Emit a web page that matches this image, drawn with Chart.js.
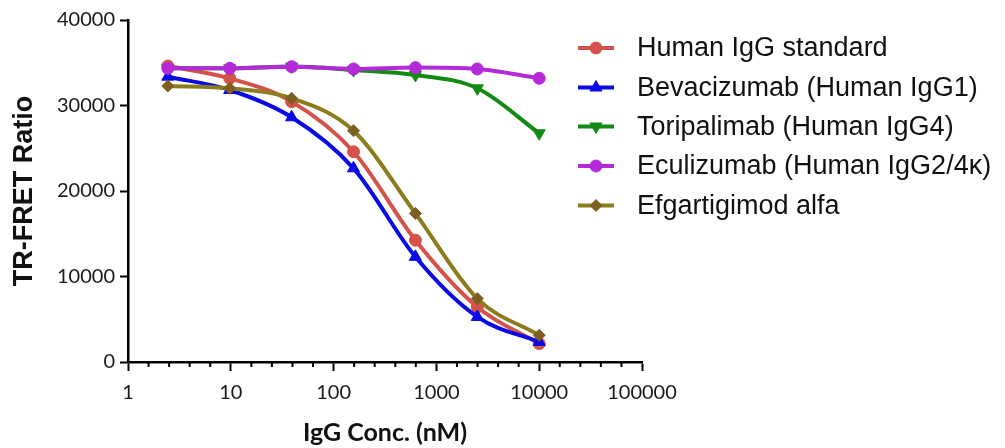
<!DOCTYPE html>
<html>
<head>
<meta charset="utf-8">
<script src="https://cdn.jsdelivr.net/npm/chart.js@4.4.1/dist/chart.umd.min.js"></script>
<style>
  html, body { margin: 0; padding: 0; background: #fff; }
  #wrap { width: 1005px; height: 448px; position: relative; }
</style>
</head>
<body>
<div id="wrap"><canvas id="fretChart"></canvas></div>
<script>
// IgG concentrations (nM), 4-fold dilutions
const CONC = [2.441, 9.766, 39.06, 156.25, 625, 2500, 10000];

const HUMAN_IGG   = [34620, 33180, 30450, 24590, 14250, 6440, 2150];
const BEVACIZUMAB = [33370, 31810, 28620, 22650, 12300, 5270, 2340];
const TORIPALIMAB = [34350, 34350, 34550, 34150, 33570, 32010, 26750];
const ECULIZUMAB  = [34350, 34350, 34540, 34270, 34430, 34270, 33180];
const EFGARTIGIMOD = [32280, 32010, 30840, 27050, 17380, 7420, 3130];

const SERIES_LABELS = [
  'Human IgG standard',
  'Bevacizumab (Human IgG1)',
  'Toripalimab (Human IgG4)',
  'Eculizumab (Human IgG2/4\u03ba)',
  'Efgartigimod alfa'
];

const X_TICKS = [1, 10, 100, 1000, 10000, 100000];
const Y_TICKS = [0, 10000, 20000, 30000, 40000];

const COLORS = ['#d4524a', '#0a0ae6', '#138a13', '#b42ad8', '#8c7c1c'];
const MARKER_COLORS = ['#d4524a', '#0a0ae6', '#138a13', '#b42ad8', '#7e5f22'];
const STYLES = [
  { pointStyle: 'circle', radius: 6, rotation: 0 },
  { pointStyle: 'triangle', radius: 7, rotation: 0 },
  { pointStyle: 'triangle', radius: 7, rotation: 180 },
  { pointStyle: 'circle', radius: 6, rotation: 0 },
  { pointStyle: 'rectRot', radius: 6, rotation: 0 }
];

Chart.defaults.font.family = "'Lato', sans-serif";
Chart.defaults.color = '#1a1a1a';

function makeSet(i, values) {
  return {
    label: SERIES_LABELS[i],
    data: CONC.map((x, k) => ({ x, y: values[k] })),
    borderColor: COLORS[i],
    backgroundColor: MARKER_COLORS[i],
    pointBackgroundColor: MARKER_COLORS[i],
    pointBorderColor: MARKER_COLORS[i],
    pointStyle: STYLES[i].pointStyle,
    pointRotation: STYLES[i].rotation,
    pointRadius: STYLES[i].radius,
    pointBorderWidth: 1,
    borderWidth: 4,
    cubicInterpolationMode: 'monotone',
    fill: false,
    order: 5 - i
  };
}

// minor ticks on the log axis + legend drawn on canvas
const extrasPlugin = {
  id: 'extras',
  afterDraw(chart) {
    const ctx = chart.ctx;
    const xs = chart.scales.x;
    const bottom = chart.chartArea.bottom;

    ctx.save();
    ctx.strokeStyle = '#000';
    ctx.lineWidth = 2;
    for (let d = 0; d < X_TICKS.length - 1; d++) {
      for (let k = 1; k <= 4; k++) {
        const v = X_TICKS[d] * Math.pow(10, k / 5);
        const px = xs.getPixelForValue(v);
        ctx.beginPath();
        ctx.moveTo(px, bottom);
        ctx.lineTo(px, bottom + 5);
        ctx.stroke();
      }
    }

    // legend
    const lx0 = 578, lx1 = 614, tx = 637;
    const rows = [48, 87.5, 126.5, 166, 205.5];
    ctx.font = "27px 'Liberation Sans', Arial, sans-serif";
    ctx.textBaseline = 'middle';
    ctx.textAlign = 'left';
    SERIES_LABELS.forEach((lab, i) => {
      const y = rows[i];
      ctx.strokeStyle = COLORS[i];
      ctx.lineWidth = 4;
      ctx.beginPath();
      ctx.moveTo(lx0, y);
      ctx.lineTo(lx1, y);
      ctx.stroke();
      ctx.fillStyle = MARKER_COLORS[i];
      ctx.strokeStyle = MARKER_COLORS[i];
      ctx.lineWidth = 1;
      Chart.helpers.drawPoint(ctx, {
        pointStyle: STYLES[i].pointStyle,
        radius: STYLES[i].radius,
        rotation: STYLES[i].rotation,
        borderWidth: 1
      }, (lx0 + lx1) / 2, y);
      ctx.fillStyle = '#111';
      ctx.fillText(lab, tx, y + 1);
    });
    ctx.restore();
  }
};

new Chart(document.getElementById('fretChart'), {
  type: 'line',
  data: {
    datasets: [
      makeSet(0, HUMAN_IGG),
      makeSet(1, BEVACIZUMAB),
      makeSet(2, TORIPALIMAB),
      makeSet(3, ECULIZUMAB),
      makeSet(4, EFGARTIGIMOD)
    ]
  },
  options: {
    responsive: true,
    maintainAspectRatio: false,
    animation: false,
    layout: { padding: { left: 0, right: 363, top: 20, bottom: 0 } },
    plugins: {
      legend: { display: false },
      tooltip: { enabled: false }
    },
    scales: {
      x: {
        type: 'logarithmic',
        min: 1,
        max: 100000,
        afterBuildTicks: s => { s.ticks = X_TICKS.map(v => ({ value: v })); },
        afterFit: s => { s.height = 86; },
        border: { color: '#000', width: 2.5 },
        grid: { drawOnChartArea: false, drawTicks: true, tickLength: 9, tickColor: '#000', tickWidth: 2 },
        ticks: {
          autoSkip: false,
          maxRotation: 0,
          padding: 10,
          font: { size: 20 },
          callback: v => String(v)
        },
        title: {
          display: true,
          text: 'IgG Conc. (nM)',
          font: { size: 25, weight: 'bold', lineHeight: 1 },
          color: '#111',
          padding: { top: 0, bottom: 3 }
        }
      },
      y: {
        min: 0,
        max: 40000,
        afterBuildTicks: s => { s.ticks = Y_TICKS.map(v => ({ value: v })); },
        afterFit: s => { s.width = 128; },
        border: { color: '#000', width: 2.5 },
        grid: { drawOnChartArea: false, drawTicks: true, tickLength: 8, tickColor: '#000', tickWidth: 2 },
        ticks: {
          padding: 5,
          font: { size: 20 },
          callback: v => String(v)
        },
        title: {
          display: true,
          text: 'TR-FRET Ratio',
          font: { family: "'Liberation Sans', Arial, sans-serif", size: 27, weight: 'bold', lineHeight: 1 },
          color: '#111',
          padding: { top: 11, bottom: 0 }
        }
      }
    }
  },
  plugins: [extrasPlugin]
});
</script>
</body>
</html>
